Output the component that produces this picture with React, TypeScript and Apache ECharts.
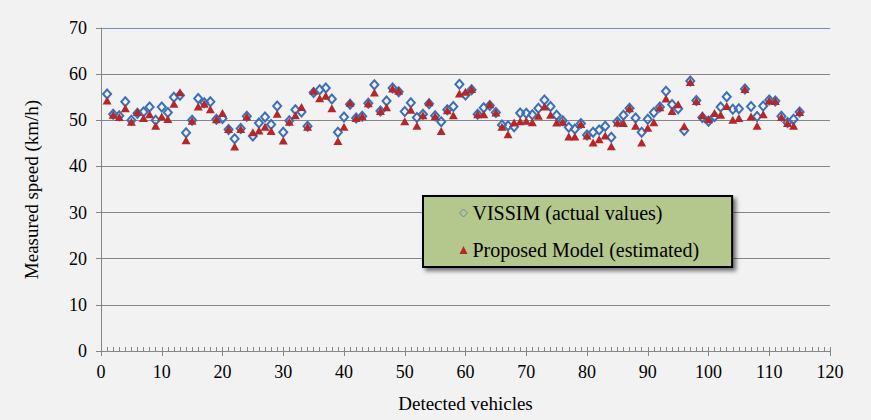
import React, { useEffect, useRef } from "react";
import * as echarts from "echarts";

// Measured speed per detected vehicle (km/h), vehicles 1..115
const vissimActual: number[] = [
  55.7, 51.3, 51.0, 54.0, 50.0, 51.5, 51.8, 52.9, 50.0, 52.9,
  51.7, 55.0, 55.4, 47.3, 50.0, 54.7, 53.8, 54.0, 50.2, 50.4,
  48.0, 46.0, 48.2, 50.9, 46.6, 49.4, 50.7, 49.1, 53.1, 47.4,
  49.9, 52.3, 51.8, 48.7, 56.0, 56.6, 57.0, 54.6, 47.4, 50.7,
  53.5, 50.5, 50.9, 53.7, 57.7, 52.0, 54.2, 57.0, 56.2, 51.9,
  53.8, 50.6, 51.3, 53.6, 51.0, 49.7, 52.3, 53.0, 57.8, 55.5,
  56.6, 51.3, 52.7, 53.2, 51.7, 49.0, 48.8, 48.6, 51.6, 51.5,
  51.2, 52.6, 54.4, 53.0, 51.1, 49.9, 48.5, 48.1, 49.3, 46.8,
  47.4, 47.9, 48.7, 46.3, 49.7, 51.1, 52.6, 50.5, 47.4, 50.2,
  51.7, 52.9, 56.3, 53.4, 52.5, 47.8, 58.5, 54.3, 50.6, 49.8,
  50.8, 52.9, 55.1, 52.4, 52.5, 56.8, 53.0, 50.8, 53.1, 54.4,
  54.2, 50.9, 49.5, 50.2, 51.8,
];

const modelEstimated: number[] = [
  54.3, 51.2, 50.7, 52.6, 49.7, 51.8, 50.5, 51.3, 48.8, 50.8,
  50.3, 53.6, 56.1, 45.7, 49.9, 53.0, 53.6, 52.4, 50.2, 51.6,
  48.1, 44.3, 48.1, 50.8, 47.4, 47.8, 48.6, 47.7, 51.4, 45.6,
  49.7, 51.1, 52.9, 48.6, 56.4, 54.8, 55.3, 52.6, 45.5, 48.6,
  53.8, 50.5, 50.9, 53.7, 56.0, 52.0, 52.8, 56.9, 56.4, 49.8,
  52.3, 48.8, 51.1, 53.9, 50.9, 47.7, 52.2, 51.1, 55.8, 56.2,
  56.8, 51.3, 51.3, 53.5, 51.7, 48.6, 47.0, 49.5, 49.8, 49.9,
  49.6, 51.0, 53.0, 51.2, 49.5, 49.7, 46.5, 46.5, 49.2, 46.7,
  45.2, 45.9, 46.7, 44.4, 49.5, 49.4, 52.6, 48.8, 45.2, 48.4,
  49.6, 52.8, 54.7, 52.0, 53.5, 48.7, 58.3, 54.2, 51.1, 50.2,
  51.6, 51.2, 53.1, 50.1, 50.5, 56.8, 50.8, 48.8, 51.3, 54.3,
  54.2, 50.7, 49.4, 48.8, 51.8,
];

const seriesNames = ["VISSIM (actual values)", "Proposed Model (estimated)"];
const xTitle = "Detected vehicles";
const yTitle = "Measured speed (km/h)";

const FONT = "Liberation Serif";
const GRID_GRAY = "#868686";

export default function App() {
  const ref = useRef<HTMLDivElement | null>(null);

  useEffect(() => {
    if (!ref.current) return;
    const chart = echarts.init(ref.current, null, { renderer: "svg" });

    const toPoints = (vals: number[]) => vals.map((v, k) => [k + 1, v]);

    chart.setOption({
      animation: false,
      backgroundColor: "#f2f2f2",
      textStyle: { fontFamily: FONT },
      grid: { left: 101, right: 41, top: 28, bottom: 69, containLabel: false },
      xAxis: [
        {
          type: "value",
          min: 0,
          max: 120,
          interval: 10,
          name: xTitle,
          nameLocation: "middle",
          nameGap: 43,
          nameTextStyle: { fontFamily: FONT, fontSize: 19, color: "#000" },
          axisLine: { show: true, onZero: false, lineStyle: { color: GRID_GRAY, width: 1 } },
          axisTick: { show: true, inside: false, length: 5, lineStyle: { color: GRID_GRAY } },
          axisLabel: { fontFamily: FONT, fontSize: 18, color: "#000", margin: 12 },
          splitLine: { show: false },
        },
        {
          // unit minor ticks pointing into the plot
          type: "value",
          min: 0,
          max: 120,
          interval: 1,
          position: "bottom",
          axisLine: { show: false, onZero: false },
          axisTick: { show: true, inside: true, length: 4, lineStyle: { color: GRID_GRAY } },
          axisLabel: { show: false },
          splitLine: { show: false },
        },
      ],
      yAxis: {
        type: "value",
        min: 0,
        max: 70,
        interval: 10,
        name: yTitle,
        nameLocation: "middle",
        nameGap: 60,
        nameRotate: 90,
        nameTextStyle: { fontFamily: FONT, fontSize: 19, color: "#000" },
        axisLine: { show: true, lineStyle: { color: GRID_GRAY, width: 1 } },
        axisTick: { show: true, inside: false, length: 5, lineStyle: { color: GRID_GRAY } },
        axisLabel: { fontFamily: FONT, fontSize: 18, color: "#000", margin: 14 },
        splitLine: {
          show: true,
          lineStyle: {
            color: [GRID_GRAY, GRID_GRAY, GRID_GRAY, GRID_GRAY, GRID_GRAY, GRID_GRAY, GRID_GRAY, "#6f8fbf"],
            width: 1,
          },
        },
      },
      legend: {
        left: 423,
        top: 196,
        orient: "vertical",
        padding: [6, 33, 6, 36],
        itemGap: 15,
        itemWidth: 8,
        itemHeight: 8,
        backgroundColor: "#b4c78c",
        borderColor: "#000",
        borderWidth: 2,
        shadowColor: "rgba(0,0,0,0.55)",
        shadowBlur: 4,
        shadowOffsetX: 3,
        shadowOffsetY: 3,
        textStyle: { fontFamily: FONT, fontSize: 20, color: "#000", lineHeight: 22 },
        data: [
          { name: seriesNames[0], icon: "diamond", itemStyle: { color: "rgba(0,0,0,0)", borderColor: "#6a88b0", borderWidth: 1 } },
          { name: seriesNames[1], icon: "triangle", itemStyle: { color: "#b3282a", borderWidth: 0 } },
        ],
      },
      series: [
        {
          name: seriesNames[0],
          type: "scatter",
          data: toPoints(vissimActual),
          symbol: "diamond",
          symbolSize: [8, 9],
          itemStyle: { color: "rgba(0,0,0,0)", borderColor: "#3a70b8", borderWidth: 2, opacity: 1 },
          z: 2,
        },
        {
          name: seriesNames[1],
          type: "scatter",
          data: toPoints(modelEstimated),
          symbol: "triangle",
          symbolSize: [9, 8],
          itemStyle: { color: "#b3282a", borderWidth: 0, opacity: 1 },
          z: 3,
        },
      ],
    });

    return () => chart.dispose();
  }, []);

  return (
    <div
      ref={ref}
      style={{ position: "fixed", left: 0, top: 0, width: 871, height: 420, background: "#f2f2f2" }}
    />
  );
}
